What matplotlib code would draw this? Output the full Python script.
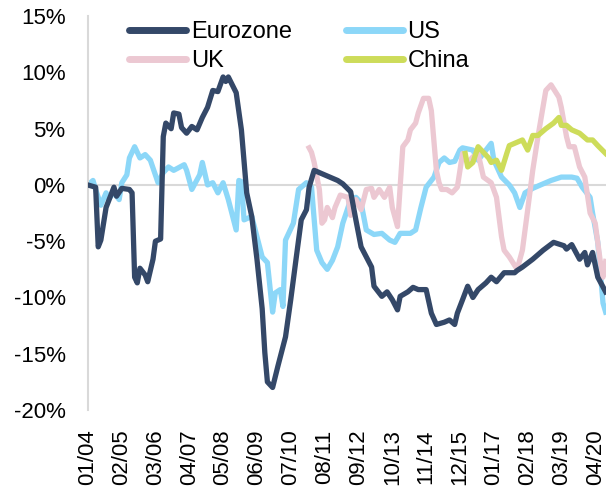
import matplotlib
matplotlib.use("Agg")
import matplotlib.pyplot as plt
import matplotlib.dates as mdates
import pandas as pd

plt.rcParams["font.family"] = ["Liberation Sans", "DejaVu Sans"]

# values (% change), irregular monthly dates
ez_dates = ["2004-01", "2004-04", "2004-05", "2004-06", "2004-08", "2004-11", "2004-12",
            "2005-02", "2005-05", "2005-06", "2005-07", "2005-08", "2005-09", "2005-11",
            "2005-12", "2006-02", "2006-03", "2006-05", "2006-06", "2006-07", "2006-09",
            "2006-10", "2006-12", "2007-01", "2007-03", "2007-05", "2007-07", "2007-09",
            "2007-11", "2008-01", "2008-03", "2008-05", "2008-06", "2008-07", "2008-10",
            "2008-12", "2009-02", "2009-04", "2009-06", "2009-08", "2009-09", "2009-10",
            "2009-12", "2010-02", "2010-05", "2010-07", "2010-09", "2010-11", "2011-01",
            "2011-02", "2011-04", "2011-07", "2011-10", "2012-01", "2012-03", "2012-06",
            "2012-08", "2012-10", "2013-02", "2013-03", "2013-06", "2013-08", "2013-10",
            "2013-12", "2014-01", "2014-04", "2014-06", "2014-08", "2014-11", "2015-01",
            "2015-03", "2015-06", "2015-08", "2015-10", "2015-11", "2016-01", "2016-03",
            "2016-05", "2016-07", "2016-10", "2016-12", "2017-02", "2017-05", "2017-09",
            "2017-10", "2017-12", "2018-04", "2018-08", "2018-12", "2019-04", "2019-05",
            "2019-07", "2019-10", "2019-12", "2020-01", "2020-03", "2020-05", "2020-08"]
ez_vals = [0.0, -0.2, -5.5, -4.9, -2.0, -0.2, -1.0,
           -0.3, -0.4, -0.7, -8.2, -8.7, -7.4, -8.0,
           -8.6, -6.6, -5.0, -4.8, 4.3, 5.5, 5.0,
           6.4, 6.3, 5.1, 4.6, 5.2, 4.9, 6.0,
           6.9, 8.4, 8.3, 9.6, 9.2, 9.6, 8.2,
           4.9, -0.7, -2.8, -6.6, -11.0, -14.9, -17.5,
           -18.0, -16.1, -13.5, -10.2, -6.6, -3.1, -2.2,
           -0.2, 1.3, 1.0, 0.7, 0.4, 0.1, -0.6,
           -3.1, -5.5, -7.3, -9.0, -9.9, -9.5, -10.2,
           -11.1, -9.9, -9.5, -9.1, -9.3, -9.3, -11.4,
           -12.4, -12.2, -12.0, -12.4, -11.4, -10.2, -9.0,
           -10.0, -9.3, -8.7, -8.2, -8.6, -7.8, -7.8,
           -7.6, -7.3, -6.6, -5.8, -5.1, -5.4, -5.7,
           -5.3, -6.6, -6.0, -7.1, -6.0, -8.2, -9.5]

us_dates = ["2004-01", "2004-03", "2004-04", "2004-06", "2004-08", "2004-09", "2004-11",
            "2005-01", "2005-02", "2005-04", "2005-05", "2005-07", "2005-09", "2005-11",
            "2006-01", "2006-04", "2006-06", "2006-08", "2006-10", "2007-02", "2007-03",
            "2007-05", "2007-08", "2007-09", "2007-11", "2008-01", "2008-03", "2008-05",
            "2008-07", "2008-10", "2008-11", "2008-12", "2009-01", "2009-04", "2009-08",
            "2009-10", "2009-12", "2010-01", "2010-03", "2010-04", "2010-05", "2010-08",
            "2010-10", "2011-01", "2011-03", "2011-05", "2011-07", "2011-09", "2011-11",
            "2012-01", "2012-03", "2012-06", "2012-08", "2012-10", "2012-12", "2013-03",
            "2013-06", "2013-09", "2013-11", "2014-01", "2014-05", "2014-07", "2014-09",
            "2014-11", "2015-02", "2015-04", "2015-06", "2015-08", "2015-10", "2015-12",
            "2016-01", "2016-05", "2016-07", "2016-10", "2016-12", "2017-01", "2017-04",
            "2017-07", "2017-09", "2017-11", "2018-01", "2018-04", "2018-07", "2018-11",
            "2019-03", "2019-07", "2019-09", "2019-11", "2020-02", "2020-03", "2020-05",
            "2020-07", "2020-08"]
us_vals = [0.0, 0.4, -0.4, -1.8, -0.7, -1.2, -0.7,
           -1.3, 0.2, 0.9, 2.4, 3.4, 2.4, 2.7,
           2.2, 0.2, 1.1, 1.6, 1.3, 1.8, 1.3,
           -0.4, 0.9, 2.0, 0.0, 0.2, -0.7, 0.2,
           -1.3, -4.0, 0.4, 0.3, -3.1, -2.8, -6.4,
           -6.9, -11.3, -9.6, -9.3, -10.8, -4.9, -3.4,
           -0.4, 0.2, -0.2, -5.8, -6.9, -7.5, -6.7,
           -5.5, -3.4, -1.3, -1.1, -1.6, -4.0, -4.4,
           -4.3, -4.9, -5.1, -4.3, -4.3, -4.0, -2.0,
           -0.2, 0.7, 2.0, 2.4, 2.0, 2.1, 3.1,
           3.3, 3.1, 2.2, 3.1, 3.7, 2.2, 0.7,
           0.0, -0.7, -2.0, -0.7, -0.3, 0.0, 0.4,
           0.7, 0.7, 0.6, -0.2, -1.1, -2.5, -5.1,
           -10.5, -11.3]

uk_dates = ["2011-02", "2011-03", "2011-04", "2011-06", "2011-07", "2011-08", "2011-09",
            "2011-11", "2011-12", "2012-02", "2012-05", "2012-06", "2012-08", "2012-10",
            "2012-12", "2013-02", "2013-03", "2013-05", "2013-07", "2013-09", "2013-10",
            "2013-12", "2014-02", "2014-04", "2014-05", "2014-07", "2014-08", "2014-10",
            "2014-12", "2015-01", "2015-03", "2015-04", "2015-05", "2015-07", "2015-09",
            "2015-11", "2016-01", "2016-03", "2016-05", "2016-07", "2016-09", "2016-12",
            "2017-02", "2017-04", "2017-05", "2017-07", "2017-10", "2017-12", "2018-02",
            "2018-04", "2018-06", "2018-09", "2018-11", "2019-02", "2019-03", "2019-05",
            "2019-06", "2019-08", "2019-10", "2019-12", "2020-02", "2020-04", "2020-06",
            "2020-07", "2020-08"]
uk_vals = [3.3, 2.9, 2.0, -0.4, -3.4, -3.1, -2.0,
           -2.9, -2.0, -0.9, -1.1, -2.7, -1.3, -2.2,
           -0.4, -0.3, -1.1, -0.4, -1.1, -0.2, -2.0,
           -3.7, 3.4, 4.0, 4.9, 5.5, 6.4, 7.7,
           7.7, 6.6, 1.3, 0.2, -0.4, -0.4, -0.7,
           -0.2, 2.8, 2.0, 2.5, 2.8, 0.7, 0.2,
           -1.1, -4.6, -5.8, -6.4, -7.5, -5.8, -2.2,
           1.3, 4.3, 8.4, 8.9, 7.8, 6.9, 4.3,
           3.4, 3.4, 1.6, 0.7, -2.5, -3.4, -6.9,
           -8.2, -6.8]

cn_dates = ["2016-02", "2016-03", "2016-05", "2016-07", "2016-09", "2016-11", "2016-12",
            "2017-02", "2017-04", "2017-06", "2017-07", "2017-10", "2017-12", "2018-02",
            "2018-04", "2018-06", "2018-09", "2018-12", "2019-02", "2019-03", "2019-05",
            "2019-07", "2019-10", "2020-01", "2020-03", "2020-05", "2020-08"]
cn_vals = [2.8, 1.6, 2.0, 3.4, 2.9, 2.4, 2.0,
           2.2, 1.3, 2.8, 3.5, 3.8, 4.0, 3.1,
           4.4, 4.4, 5.0, 5.5, 6.0, 5.3, 5.3,
           4.9, 4.6, 4.0, 4.0, 3.5, 2.8]

tick_dates = ["2004-01", "2005-02", "2006-03", "2007-04", "2008-05", "2009-06",
              "2010-07", "2011-08", "2012-09", "2013-10", "2014-11", "2015-12",
              "2017-01", "2018-02", "2019-03", "2020-04"]

fig = plt.figure(figsize=(6.06, 4.91), dpi=100)
ax = fig.add_axes([0.145, 0.165, 0.855, 0.802])

ax.axhline(0, color="#d9d9d9", lw=1.5, zorder=1)
ax.plot(pd.to_datetime(us_dates), us_vals, color="#8cd7f8", lw=3.8, label="US", zorder=2)
ax.plot(pd.to_datetime(uk_dates), uk_vals, color="#ecc8d2", lw=3.8, label="UK", zorder=3)
ax.plot(pd.to_datetime(cn_dates), cn_vals, color="#cddc5a", lw=3.8, label="China", zorder=4)
ax.plot(pd.to_datetime(ez_dates), ez_vals, color="#344868", lw=3.8, label="Eurozone", zorder=5)

ax.set_ylim(-20, 15)
ax.set_yticks(range(-20, 16, 5))
ax.set_yticklabels([f"{v}%" for v in range(-20, 16, 5)])
ax.set_xlim(pd.Timestamp("2004-01-01"), pd.Timestamp("2020-08-05"))
ax.set_xticks(pd.to_datetime(tick_dates))
ax.xaxis.set_major_formatter(mdates.DateFormatter("%m/%y"))
ax.tick_params(axis="x", rotation=90, length=0, pad=14, labelsize=16)
ax.tick_params(axis="y", length=0, pad=16, labelsize=16)

for side in ["top", "right", "bottom"]:
    ax.spines[side].set_visible(False)
ax.spines["left"].set_color("#d9d9d9")
ax.spines["left"].set_linewidth(1.5)

handles, labels = ax.get_legend_handles_labels()
order = [3, 1, 0, 2]  # Eurozone, UK | US, China
leg = ax.legend([handles[i] for i in order], [labels[i] for i in order],
                ncol=2, loc="upper left", bbox_to_anchor=(0.062, 1.012), frameon=False,
                fontsize=17, handlelength=2.4, handletextpad=0.2, columnspacing=2.3,
                labelspacing=0.31, borderaxespad=0)
for line in leg.get_lines():
    line.set_linewidth(5)
    line.set_solid_capstyle("round")

fig.savefig("out.png", dpi=100)
